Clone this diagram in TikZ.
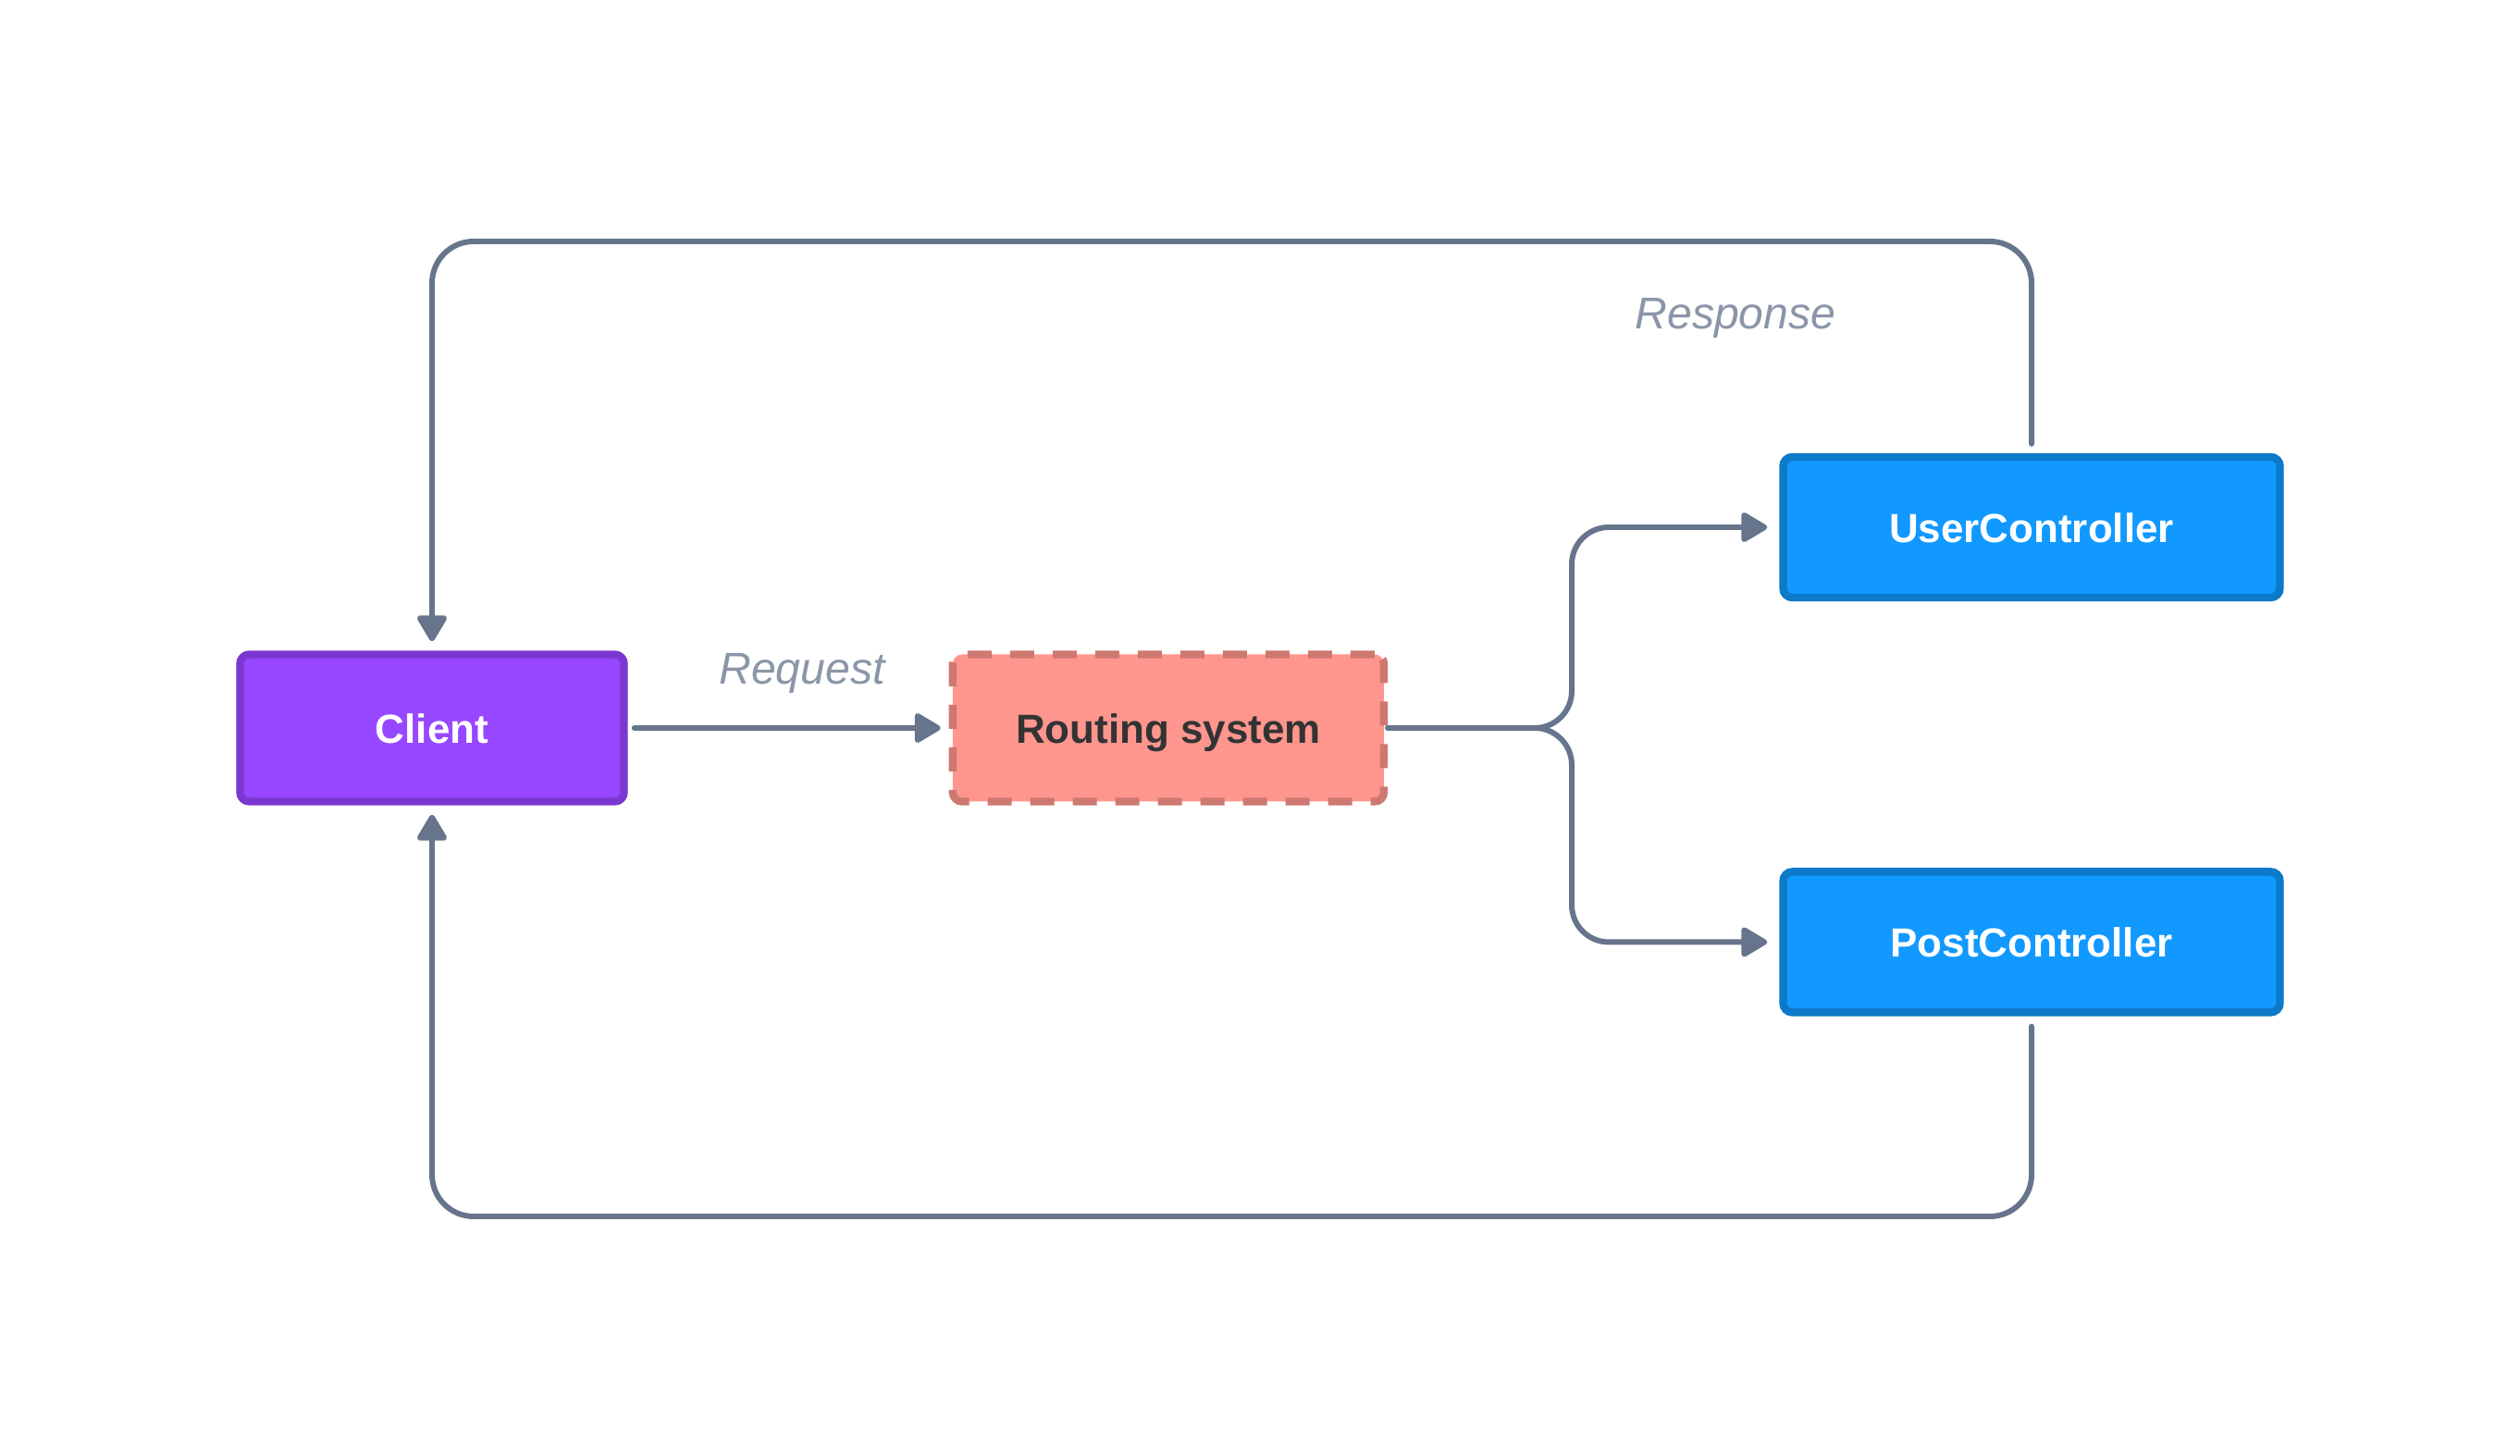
\documentclass[tikz,border=0pt]{standalone}
\usepackage{fontspec}
\setmainfont{Liberation Sans}
\usetikzlibrary{positioning,arrows.meta,calc}

\definecolor{clientfill}{HTML}{9747FF}
\definecolor{clientdraw}{HTML}{7B38D0}
\definecolor{routefill}{HTML}{FF968E}
\definecolor{routedraw}{HTML}{CD7870}
\definecolor{ctrlfill}{HTML}{1199FF}
\definecolor{ctrldraw}{HTML}{0C79C9}
\definecolor{wire}{HTML}{66758C}
\definecolor{labelgray}{HTML}{8A96A8}
\definecolor{darktext}{HTML}{333333}

\begin{document}
\begin{tikzpicture}[
  box/.style={rectangle,draw=#1draw,fill=#1fill,line width=2.4pt,rounded corners=0.1cm,
    minimum height=1.59cm,text height=1.75ex,text depth=0pt,text=white,font=\fontsize{12.5}{15}\selectfont\bfseries},
  conn/.style={draw=wire,line width=1.7pt,line cap=round,-{Triangle[length=3.1mm,width=3.5mm,round]}},
  wirelabel/.style={text=labelgray,font=\fontsize{13.7}{16}\selectfont\itshape},
]
\fill[white] (0,0) rectangle (27.24,-15.74);
\useasboundingbox (0,0) rectangle (27.24,-15.74);

% Boxes
\node[box=client,minimum width=4.15cm] (client) at (4.67,-7.87) {Client};
\node[box=route,text=darktext,dash pattern=on 0.26cm off 0.2cm,minimum width=4.66cm,right=3.47cm of client] (routing) {Routing system};
\node[box=ctrl,minimum width=5.37cm,minimum height=1.52cm] (user) at (21.96,-5.70) {UserController};
\node[box=ctrl,minimum width=5.37cm,minimum height=1.52cm,below=2.88cm of user] (post) {PostController};

% Request
\draw[conn,shorten <=0.07cm,shorten >=0.09cm] (client) -- (routing);
\node[wirelabel] (reqlabel) at (8.67,-7.28) {Request};

% Routing to controllers
\coordinate (fork) at (16.99,-7.87);
\draw[conn,rounded corners=0.4cm,shorten >=0.13cm] (routing.east) -- (fork) |- (user.west);
\draw[conn,rounded corners=0.4cm,shorten >=0.13cm] (routing.east) -- (fork) |- (post.west);

% Response loops
\draw[conn,rounded corners=0.45cm,shorten <=0.1cm,shorten >=0.1cm] (user.north) |- (4.67,-2.61) -- (client.north);
\draw[conn,rounded corners=0.45cm,shorten <=0.11cm,shorten >=0.1cm] (post.south) |- (4.67,-13.15) -- (client.south);
\node[wirelabel] (resplabel) at (18.76,-3.44) {Response};

\end{tikzpicture}
\end{document}
